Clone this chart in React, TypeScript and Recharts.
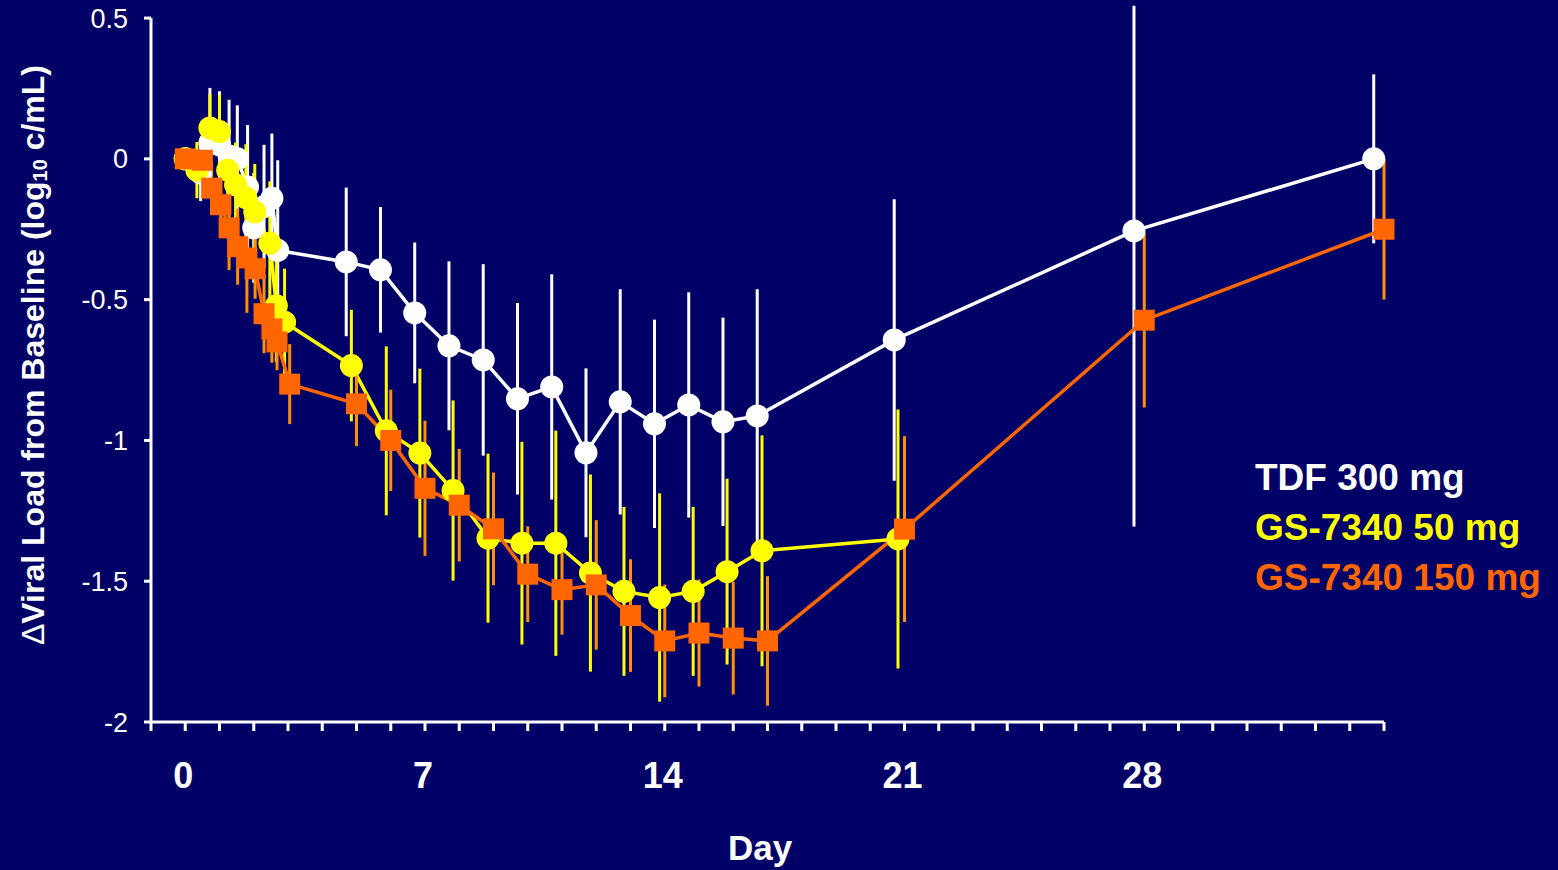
import React from "react";
import { LineChart, Line, XAxis, YAxis, ErrorBar, ReferenceLine } from "recharts";

// TDF 300 mg (white)
const tdfDays = [0, 0.45, 0.72, 1.0, 1.28, 1.52, 1.82, 2.0, 2.3, 2.53, 2.7, 4.7, 5.7, 6.7, 7.7, 8.7, 9.7, 10.7, 11.7, 12.7, 13.7, 14.7, 15.7, 16.7, 20.7, 27.7, 34.7];
const tdfMean = [0, -0.05, 0.057, 0.05, 0.01, 0.0, -0.1, -0.245, -0.17, -0.14, -0.325, -0.366, -0.394, -0.547, -0.664, -0.714, -0.852, -0.81, -1.044, -0.863, -0.941, -0.874, -0.934, -0.913, -0.643, -0.256, 0.0];
// day 28 upper bar is cut off at the top of the plot
const tdfErr: (number | [number, number])[] = [0, 0.1, 0.195, 0.19, 0.2, 0.19, 0.22, 0.195, 0.22, 0.23, 0.32, 0.264, 0.223, 0.25, 0.3, 0.34, 0.34, 0.4, 0.3, 0.4, 0.37, 0.4, 0.37, 0.45, 0.5, [1.05, 0.8], 0.3];

// GS-7340 50 mg (yellow)
const gs50Days = [0, 0.34, 0.72, 1.0, 1.24, 1.47, 1.77, 2.03, 2.47, 2.66, 2.9, 4.85, 5.87, 6.85, 7.82, 8.84, 9.83, 10.82, 11.83, 12.81, 13.85, 14.83, 15.82, 16.84, 20.81];
const gs50Mean = [0, -0.04, 0.11, 0.097, -0.04, -0.092, -0.138, -0.188, -0.3, -0.522, -0.58, -0.734, -0.966, -1.045, -1.178, -1.347, -1.365, -1.365, -1.471, -1.536, -1.558, -1.536, -1.466, -1.392, -1.35];
const gs50Err = [0, 0.1, 0.12, 0.13, 0.15, 0.15, 0.19, 0.17, 0.22, 0.2, 0.19, 0.198, 0.3, 0.3, 0.32, 0.3, 0.36, 0.4, 0.35, 0.3, 0.37, 0.3, 0.33, 0.41, 0.46];

// GS-7340 150 mg (orange)
const gs150Days = [0, 0.5, 0.77, 1.04, 1.28, 1.53, 1.8, 2.04, 2.3, 2.53, 2.68, 3.05, 5, 6, 7, 8, 9, 10, 11, 12, 13, 14, 15, 16, 17, 21, 28, 35];
const gs150Mean = [0, -0.005, -0.104, -0.163, -0.245, -0.312, -0.352, -0.39, -0.55, -0.604, -0.65, -0.8, -0.87, -1.0, -1.17, -1.23, -1.314, -1.475, -1.53, -1.513, -1.622, -1.712, -1.684, -1.702, -1.712, -1.315, -0.573, -0.25];
const gs150Err = [0, 0.05, 0.095, 0.1, 0.15, 0.135, 0.195, 0.107, 0.14, 0.12, 0.1, 0.142, 0.15, 0.18, 0.24, 0.2, 0.2, 0.17, 0.16, 0.23, 0.2, 0.2, 0.19, 0.2, 0.23, 0.33, 0.31, 0.25];

const dayTicks = [-1, 0, 1, 2, 3, 4, 5, 6, 7, 8, 9, 10, 11, 12, 13, 14, 15, 16, 17, 18, 19, 20, 21, 22, 23, 24, 25, 26, 27, 28, 29, 30, 31, 32, 33, 34, 35];
const dayLabels = [0, 7, 14, 21, 28];
const loadTicks = [-2, -1.5, -1, -0.5, 0, 0.5];

const series = [
  { name: "TDF 300 mg", days: tdfDays, mean: tdfMean, err: tdfErr, color: "#ffffff", errColor: "#ffffff", shape: "circle" },
  { name: "GS-7340 50 mg", days: gs50Days, mean: gs50Mean, err: gs50Err, color: "#ffff00", errColor: "#ffff00", shape: "circle" },
  { name: "GS-7340 150 mg", days: gs150Days, mean: gs150Mean, err: gs150Err, color: "#ff6600", errColor: "#ff9000", shape: "square" },
];

const FONT = '"Liberation Sans", Arial, sans-serif';

const YTitle = () => (
  <text
    transform="translate(33,355) rotate(-90)"
    textAnchor="middle"
    dominantBaseline="central"
    fill="#fff"
    fontSize={32}
    fontWeight="bold"
    fontFamily={FONT}
  >
    <tspan fontWeight="normal">Δ</tspan>Viral Load from Baseline (log
    <tspan fontSize={20} dy={7}>10</tspan>
    <tspan dy={-7}> c/mL)</tspan>
  </text>
);

const DayTitle = () => (
  <text x={760} y={860} textAnchor="middle" fill="#fff" fontSize={35} fontWeight="bold" fontFamily={FONT}>
    Day
  </text>
);

export default function App() {
  return (
    <div style={{ position: "fixed", left: 0, top: 0, width: 1558, height: 870, background: "#000066", fontFamily: FONT }}>
      <LineChart width={1558} height={870} margin={{ top: 4, right: 174, bottom: 0, left: 0 }}>
        <XAxis
          type="number"
          dataKey="day"
          domain={[-1, 35]}
          ticks={dayTicks}
          interval={0}
          tickFormatter={(v: number) => (dayLabels.includes(v) ? String(v) : "")}
          height={148}
          axisLine={{ stroke: "#fff", strokeWidth: 3 }}
          tickLine={{ stroke: "#fff", strokeWidth: 3 }}
          tickSize={9}
          tickMargin={31}
          tick={{ fill: "#fff", fontSize: 36, fontWeight: "bold", fontFamily: FONT, dx: -2 }}
          label={<DayTitle />}
        />
        <YAxis
          type="number"
          domain={[-2, 0.55]}
          ticks={loadTicks}
          interval={0}
          width={151}
          axisLine={false}
          tickLine={{ stroke: "#fff", strokeWidth: 3 }}
          tickSize={7}
          tickMargin={16}
          tick={{ fill: "#fff", fontSize: 27, fontFamily: FONT }}
          label={<YTitle />}
        />
        <ReferenceLine segment={[{ x: -1, y: -2 }, { x: -1, y: 0.5 }]} stroke="#fff" strokeWidth={3} />
        {series.map((s) => (
          <Line
            key={s.name}
            name={s.name}
            data={s.days.map((d, i) => ({ day: d, v: s.mean[i], err: s.err[i] }))}
            dataKey="v"
            stroke={s.color}
            strokeWidth={3.5}
            isAnimationActive={false}
            dot={(p: any) =>
              s.shape === "circle" ? (
                <circle key={p.index} cx={p.cx} cy={p.cy} r={11.5} fill={s.color} />
              ) : (
                <rect key={p.index} x={p.cx - 10.5} y={p.cy - 10.5} width={21} height={21} fill={s.color} />
              )
            }
            activeDot={false}
          >
            <ErrorBar dataKey="err" direction="y" width={0} stroke={s.errColor} strokeWidth={3} />
          </Line>
        ))}
      </LineChart>
      <div style={{ position: "absolute", left: 1255, top: 453, fontSize: 37, fontWeight: "bold", lineHeight: "50px" }}>
        {series.map((s) => (
          <div key={s.name} style={{ color: s.color, whiteSpace: "nowrap" }}>
            {s.name}
          </div>
        ))}
      </div>
    </div>
  );
}
